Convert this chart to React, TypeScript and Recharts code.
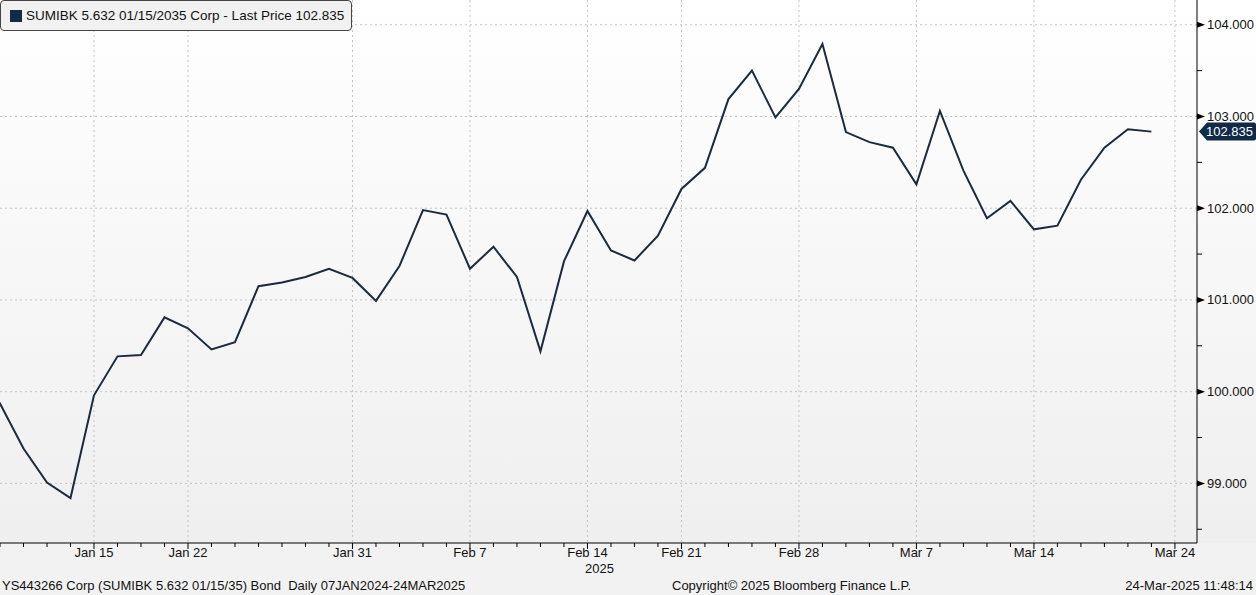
import { LineChart, Line, XAxis, YAxis, CartesianGrid, ReferenceLine } from "recharts"

// business days; Jan 8 sits just left of the visible window, Mar 24 has no close yet
const dates = [
  "Jan 8", "Jan 9", "Jan 10", "Jan 13", "Jan 14", "Jan 15", "Jan 16", "Jan 17", "Jan 21", "Jan 22", "Jan 23",
  "Jan 24", "Jan 27", "Jan 28", "Jan 29", "Jan 30", "Jan 31", "Feb 3", "Feb 4", "Feb 5", "Feb 6",
  "Feb 7", "Feb 10", "Feb 11", "Feb 12", "Feb 13", "Feb 14", "Feb 18", "Feb 19", "Feb 20", "Feb 21",
  "Feb 24", "Feb 25", "Feb 26", "Feb 27", "Feb 28", "Mar 3", "Mar 4", "Mar 5", "Mar 6", "Mar 7",
  "Mar 10", "Mar 11", "Mar 12", "Mar 13", "Mar 14", "Mar 17", "Mar 18", "Mar 19", "Mar 20", "Mar 21",
  "Mar 24",
]

const prices = [
  100.25,
  99.87, 99.38, 99.01, 98.84, 99.96, 100.385, 100.4, 100.81, 100.69, 100.46,
  100.54, 101.15, 101.19, 101.25, 101.34, 101.24, 100.99, 101.37, 101.98, 101.93,
  101.34, 101.58, 101.25, 100.44, 101.42, 101.97, 101.54, 101.43, 101.7, 102.21,
  102.44, 103.19, 103.5, 102.99, 103.3, 103.79, 102.83, 102.72, 102.66, 102.26,
  103.06, 102.41, 101.89, 102.08, 101.77, 101.81, 102.31, 102.66, 102.86, 102.835,
]

const labelDates = ["Jan 15", "Jan 22", "Jan 31", "Feb 7", "Feb 14", "Feb 21", "Feb 28", "Mar 7", "Mar 14", "Mar 24"]
const yTicks = [98.5, 99, 99.5, 100, 100.5, 101, 101.5, 102, 102.5, 103, 103.5, 104]
const lastPrice = 102.835

// index 0 = Jan 8 (off-screen), visible window starts at Jan 9
const data = dates.map((d, i) => ({ i, date: d, price: i < prices.length ? prices[i] : null }))
const xTicks = dates.map((_, i) => i).filter((i) => i >= 1)
const labelIdx = labelDates.map((d) => dates.indexOf(d))

const FONT = "'Liberation Sans', Arial, sans-serif"
const LINE = "#1b2b3e"

function XTick(props: any) {
  const { x, y, payload } = props
  const label = dates[payload.value]
  const major = labelDates.includes(label)
  return (
    <g>
      <line x1={x} x2={x} y1={y} y2={y + (major ? 6 : 4)} stroke="#000" />
      {major && (
        <text x={x} y={y + 14} textAnchor="middle" fontSize={13} fontFamily={FONT} fill="#111">
          {label}
        </text>
      )}
    </g>
  )
}

function YTick(props: any) {
  const { x, y, payload } = props
  const v = payload.value
  if (Number.isInteger(v)) {
    return (
      <g>
        <polygon points={`${x},${y - 3} ${x + 8},${y} ${x},${y + 3}`} fill="#000" />
        <text x={x + 10} y={y + 4.5} fontSize={13} fontFamily={FONT} fill="#111">
          {v.toFixed(3)}
        </text>
      </g>
    )
  }
  return <line x1={x} x2={x + 5} y1={y} y2={y} stroke="#000" />
}

function PriceTag(props: any) {
  const { viewBox } = props
  const x = viewBox.x + viewBox.width + 2
  const y = viewBox.y
  return (
    <g>
      <path
        d={`M${x},${y} L${x + 8},${y - 9} L${x + 55},${y - 9} Q${x + 57},${y - 9} ${x + 57},${y - 7} L${x + 57},${y + 7} Q${x + 57},${y + 9} ${x + 55},${y + 9} L${x + 8},${y + 9} Z`}
        fill="#112a46"
      />
      <text x={x + 7} y={y + 4.5} fontSize={13} fontFamily={FONT} fill="#fff">
        {lastPrice.toFixed(3)}
      </text>
    </g>
  )
}

export default function App() {
  return (
    <div
      style={{
        position: "relative",
        width: 1256,
        height: 595,
        overflow: "hidden",
        fontFamily: FONT,
        background: "linear-gradient(to bottom, #ffffff 0px, #efefef 543px, #f2f2f2 543px, #f2f2f2 595px)",
      }}
    >
      <style>{`body{margin:0}`}</style>
      <LineChart width={1256} height={595} data={data} margin={{ top: 0, right: 0, left: 0, bottom: 0 }}>
        <CartesianGrid
          stroke="#c4c4c4"
          strokeDasharray="2 3"
          horizontalValues={[99, 100, 101, 102, 103, 104]}
          verticalValues={labelIdx}
        />
        <XAxis
          dataKey="i"
          type="number"
          domain={[1, 51.94]}
          ticks={xTicks}
          interval={0}
          height={52}
          tickSize={0}
          tickMargin={0}
          tick={<XTick />}
          axisLine={{ stroke: "#000" }}
          allowDataOverflow
        />
        <YAxis
          orientation="right"
          width={59}
          domain={[98.35, 104.27]}
          ticks={yTicks}
          interval={0}
          tickSize={0}
          tickMargin={0}
          tick={<YTick />}
          axisLine={{ stroke: "#000" }}
          allowDataOverflow
        />
        <ReferenceLine y={lastPrice} stroke="none" label={<PriceTag />} />
        <Line
          dataKey="price"
          stroke={LINE}
          strokeWidth={2}
          dot={false}
          activeDot={false}
          isAnimationActive={false}
          connectNulls={false}
        />
      </LineChart>

      {/* legend */}
      <div
        style={{
          position: "absolute",
          left: 0,
          top: 0,
          width: 350,
          height: 29,
          border: "1px solid #444",
          borderRadius: 4,
          background: "#f1f1f1",
          display: "flex",
          alignItems: "center",
          fontSize: 13.5,
          color: "#111",
          whiteSpace: "nowrap",
        }}
      >
        <span style={{ width: 12, height: 12, background: "#152a45", marginLeft: 9, marginRight: 4 }} />
        SUMIBK 5.632 01/15/2035 Corp - Last Price 102.835
      </div>

      <div style={{ position: "absolute", left: 585, top: 561, fontSize: 13, color: "#111" }}>2025</div>
      <div style={{ position: "absolute", left: 2, top: 578, fontSize: 13, color: "#111", whiteSpace: "pre" }}>
        YS443266 Corp (SUMIBK 5.632 01/15/35) Bond  Daily 07JAN2024-24MAR2025
      </div>
      <div style={{ position: "absolute", left: 672, top: 578, fontSize: 13, color: "#111" }}>
        Copyright© 2025 Bloomberg Finance L.P.
      </div>
      <div style={{ position: "absolute", right: 3, top: 578, fontSize: 13, color: "#111" }}>
        24-Mar-2025 11:48:14
      </div>
    </div>
  )
}
